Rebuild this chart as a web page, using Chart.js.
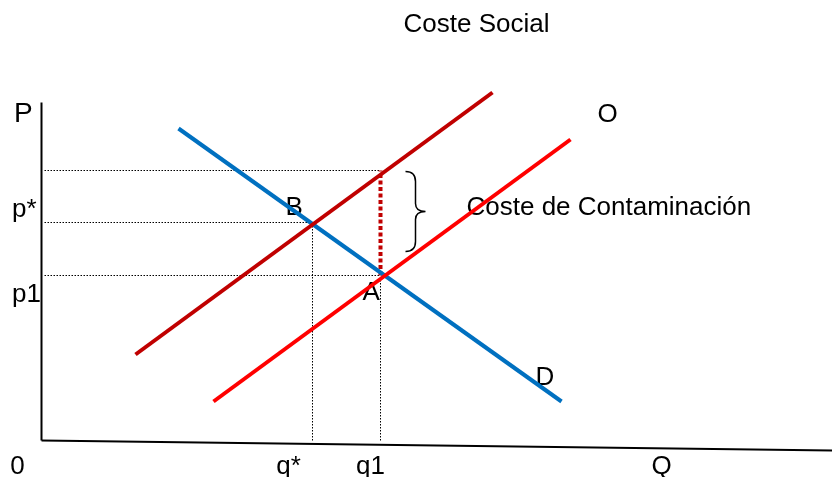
<!DOCTYPE html>
<html>
<head>
<meta charset="utf-8">
<script src="https://cdn.jsdelivr.net/npm/chart.js@4/dist/chart.umd.min.js"></script>
<style>
html,body{margin:0;padding:0;background:#fff;}
#wrap{width:832px;height:477px;}
</style>
</head>
<body>
<div id="wrap"><canvas id="c" width="832" height="477"></canvas></div>
<script>
// Economic coordinates: Q (quantity) and P (price), origin at the axes corner
const socialCost = [{x: 94, y: 86}, {x: 451, y: 348}];   // Coste social (supply + pollution)
const supplyO    = [{x: 172, y: 39}, {x: 529, y: 301}];  // O (private supply)
const demandD    = [{x: 137, y: 312}, {x: 520, y: 39}];  // D (demand)

const qStar = 271, q1 = 339;
const pStar = 218, p1 = 165, pSocial = 270;

const xAxisLine = [{x: 0, y: 0}, {x: 791, y: -10}];
const yAxisLine = [{x: 0, y: 0}, {x: 0, y: 338}];

// axis label texts and the value where each sits
const tickLabelsP = [{t: 'P', v: 319}, {t: 'p*', v: 224}, {t: 'p1', v: 139}];
const tickLabelsQ = [{t: '0', v: -24}, {t: 'q*', v: 247}, {t: 'q1', v: 329}, {t: 'Q', v: 620}];

const annotations = [
  {t: 'Coste Social', x: 362, y: 409},
  {t: 'O', x: 556, y: 319},
  {t: 'D', x: 494, y: 56},
  {t: 'B', x: 244, y: 226},
  {t: 'A', x: 321, y: 141},
  {t: 'Coste de Contaminación', x: 425, y: 226}
];
const braceSpan = {x: 364, top: 269, bottom: 189, tipX: 384};

const FONT = '26px "Liberation Sans", Arial, sans-serif';
const FONT_P = '28px "Liberation Sans", Arial, sans-serif';

function seg(data, color, width, dash, order) {
  return {data, borderColor: color, borderWidth: width, borderDash: dash || [],
          showLine: true, pointRadius: 0, fill: false, order, borderCapStyle: 'butt', tension: 0};
}

const textPlugin = {
  id: 'texts',
  beforeDatasetsDraw(chart) {
    const {ctx, scales: {x, y}} = chart;
    ctx.save();
    ctx.fillStyle = '#000';
    ctx.textBaseline = 'alphabetic';
    ctx.textAlign = 'left';
    tickLabelsP.forEach(l => {
      ctx.font = l.t === 'P' ? FONT_P : FONT;
      ctx.fillText(l.t, l.t === 'P' ? 14 : 12, y.getPixelForValue(l.v));
    });
    ctx.font = FONT;
    ctx.textAlign = 'center';
    tickLabelsQ.forEach(l => {
      ctx.fillText(l.t, x.getPixelForValue(l.v), 474);
    });
    ctx.textAlign = 'left';
    annotations.forEach(a => {
      ctx.fillText(a.t, x.getPixelForValue(a.x), y.getPixelForValue(a.y));
    });
    // brace
    const bx = x.getPixelForValue(braceSpan.x);
    const tx = x.getPixelForValue(braceSpan.tipX);
    const ty = y.getPixelForValue(braceSpan.top);
    const by = y.getPixelForValue(braceSpan.bottom);
    const my = (ty + by) / 2;
    const mx = (bx + tx) / 2;
    ctx.strokeStyle = '#000';
    ctx.lineWidth = 1.5;
    ctx.beginPath();
    ctx.moveTo(bx, ty);
    ctx.quadraticCurveTo(mx, ty, mx, ty + 10);
    ctx.lineTo(mx, my - 8);
    ctx.quadraticCurveTo(mx, my, tx, my);
    ctx.quadraticCurveTo(mx, my, mx, my + 8);
    ctx.lineTo(mx, by - 10);
    ctx.quadraticCurveTo(mx, by, bx, by);
    ctx.stroke();
    ctx.restore();
  }
};

const DOT = [1.5, 1.5];

new Chart(document.getElementById('c'), {
  type: 'scatter',
  data: {
    datasets: [
      seg(supplyO, '#FF0000', 4, null, 0),
      seg(socialCost, '#C00000', 4, null, 1),
      seg(demandD, '#0070C0', 4, null, 2),
      seg([{x: q1, y: p1}, {x: q1, y: pSocial}], '#C00000', 4, [4, 2.5], 4),
      seg([{x: 3, y: pSocial}, {x: q1, y: pSocial}], '#000', 1, DOT, 5),
      seg([{x: 3, y: pStar}, {x: qStar, y: pStar}], '#000', 1, DOT, 5),
      seg([{x: 3, y: p1}, {x: q1, y: p1}], '#000', 1, DOT, 5),
      seg([{x: qStar, y: 0}, {x: qStar, y: pStar}], '#000', 1, DOT, 5),
      seg([{x: q1, y: 0}, {x: q1, y: p1}], '#000', 1, DOT, 5),
      seg(xAxisLine, '#000', 2, null, 6),
      seg(yAxisLine, '#000', 2, null, 6)
    ]
  },
  options: {
    responsive: false,
    animation: false,
    layout: {padding: 0},
    plugins: {legend: {display: false}, tooltip: {enabled: false}, title: {display: false}},
    scales: {
      x: {type: 'linear', min: -41.5, max: 790.5, display: false},
      y: {type: 'linear', min: -36.5, max: 440.5, display: false}
    }
  },
  plugins: [textPlugin]
});
</script>
</body>
</html>
